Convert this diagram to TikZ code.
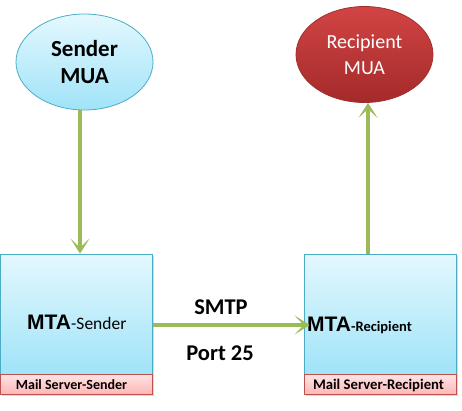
\documentclass[tikz,border=0pt]{standalone}
\usepackage{fontspec}
\setmainfont{Carlito}
\newfontfamily\heavyfont{Liberation Sans}
\usetikzlibrary{arrows.meta,shapes.geometric,shadows}
\definecolor{arrgreen}{HTML}{9BBB59}
\definecolor{cyanborder}{HTML}{4BACC6}
\definecolor{cyantop}{HTML}{E4F8FE}
\definecolor{cyanbot}{HTML}{A0E3F8}
\definecolor{redtop}{HTML}{D24444}
\definecolor{redbot}{HTML}{A42A2A}
\definecolor{redborder}{HTML}{A03030}
\definecolor{pinktop}{HTML}{FFE4E4}
\definecolor{pinkbot}{HTML}{FFB6B6}
\definecolor{pinkborder}{HTML}{C0504D}
\tikzset{
  mua/.style={ellipse, minimum width=137, minimum height=96, inner sep=0pt, align=center},
  senderfill/.style={draw=cyanborder, line width=0.8pt, top color=cyantop, bottom color=cyanbot},
  recipfill/.style={draw=redborder, line width=0.8pt, top color=redtop, bottom color=redbot, text=white},
  mtabox/.style={rectangle, draw=cyanborder, line width=0.8pt, top color=cyantop, bottom color=cyanbot, minimum width=152, minimum height=120, inner sep=0pt, drop shadow={shadow xshift=1.5pt, shadow yshift=-1.5pt, opacity=0.3}},
  srvbox/.style={rectangle, draw=pinkborder, line width=0.8pt, top color=pinktop, bottom color=pinkbot, minimum width=152, minimum height=20, inner sep=0pt, drop shadow={shadow xshift=1.5pt, shadow yshift=-1.5pt, opacity=0.3}},
  srvtext/.style={inner sep=0pt, font=\bfseries\fontsize{14}{16}\selectfont},
  arr/.style={draw=arrgreen, line width=4.5pt, -{Stealth[length=15pt,width=19pt,inset=9pt]}},
  lbl/.style={font=\bfseries\fontsize{22.5}{24}\selectfont, inner sep=0pt}
}
\begin{document}
\begin{tikzpicture}[x=1pt,y=-1pt]
\useasboundingbox (0,0) rectangle (462,410);
\node[mua, senderfill, font=\bfseries\fontsize{23}{27}\selectfont] (sender) at (84.5,62) {Sender\\MUA};
\node[mua, recipfill, font=\fontsize{20}{26}\selectfont] (recip) at (364.5,54.5) {Recipient\\MUA};
\node[mtabox] (mtas) at (76.5,314) {};
\node[mtabox] (mtar) at (380,314) {};
\node[srvbox] (srvs) at (76.5,384) {};
\node[srvbox] (srvr) at (380,384.5) {};
\node[srvtext] (srvst) at (71.5,384.5) {Mail Server-Sender};
\node[srvtext, font=\bfseries\fontsize{14.7}{16}\selectfont] (srvrt) at (378.5,385) {Mail Server-Recipient};
\node[inner sep=0pt, anchor=west] (ts) at (27,322) {{\heavyfont\bfseries\fontsize{21}{24}\selectfont MTA}{\fontsize{17.5}{24}\selectfont -Sender}};
\node[inner sep=0pt, anchor=west] (tr) at (307,325) {{\heavyfont\bfseries\fontsize{21}{24}\selectfont MTA}{\bfseries\fontsize{14.5}{16}\selectfont -Recipient}};
\draw[arr] ([xshift=-4.5pt]sender.south) -- ([xshift=3.5pt]mtas.north);
\draw[arr] ([xshift=-12pt]mtar.north) -- ([xshift=3.5pt]recip.south);
\draw[arr] ([yshift=-11pt]mtas.east) -- ([xshift=6pt,yshift=-11pt]mtar.west);
\node[lbl] (smtp) at (221,307) {SMTP};
\node[lbl] (port) at (220,353) {Port 25};
\end{tikzpicture}
\end{document}
